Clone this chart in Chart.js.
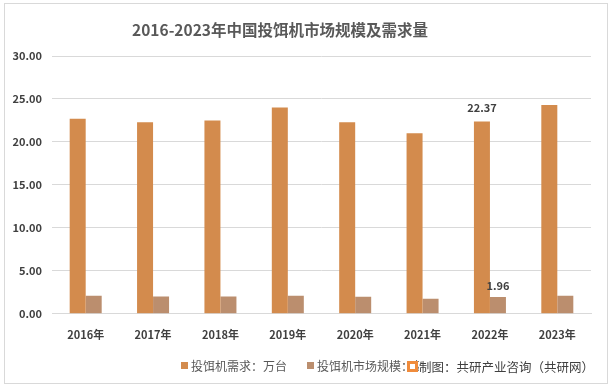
<!DOCTYPE html>
<html>
<head>
<meta charset="utf-8">
<script src="https://cdn.jsdelivr.net/npm/chart.js"></script>
<style>
    html, body { margin: 0; padding: 0; background: #fff; }
    #wrap { width: 614px; height: 390px; position: relative; }
</style>
</head>
<body>
<div id="wrap"><canvas id="feederChart"></canvas></div>
<script>
// ===== DATA =====
var years = ['2016年', '2017年', '2018年', '2019年', '2020年', '2021年', '2022年', '2023年'];
var demand = [22.7, 22.3, 22.5, 24.0, 22.3, 21.0, 22.37, 24.3];      // 万台
var marketSize = [2.1, 2.0, 2.0, 2.1, 1.97, 1.75, 1.96, 2.1];        // 亿元
var yTicks = [0, 5, 10, 15, 20, 25, 30];
var labelIndex = 6; // only 2022 carries value labels

var FONT = '"Noto Sans CJK SC", "Noto Sans", sans-serif';

// title, frame, legend and source note
var decorPlugin = {
    id: 'decor',
    beforeDraw: function(chart) {
        var c = chart.ctx;
        c.save();
        c.fillStyle = '#fff';
        c.fillRect(0, 0, chart.width, chart.height);
        c.strokeStyle = '#d9d9d9';
        c.lineWidth = 1;
        c.strokeRect(4.5, 3.5, 603, 380);
        c.fillStyle = '#595959';
        c.font = 'bold 15.5px ' + FONT;
        c.textAlign = 'center';
        c.textBaseline = 'middle';
        c.fillText('2016-2023年中国投饵机市场规模及需求量', 280, 30);
        c.restore();
    },
    afterDraw: function(chart) {
        var c = chart.ctx;
        c.save();
        // value labels for 2022
        c.font = 'bold 11px ' + FONT;
        c.fillStyle = '#404040';
        c.textAlign = 'center';
        c.textBaseline = 'bottom';
        chart.data.datasets.forEach(function(ds, i) {
            var bar = chart.getDatasetMeta(i).data[labelIndex];
            c.fillText(ds.data[labelIndex].toFixed(2), bar.x, bar.y - (i === 0 ? 8 : 6));
        });
        // legend
        var legendX = [181, 307];
        c.font = '12px ' + FONT;
        c.textAlign = 'left';
        c.textBaseline = 'middle';
        chart.data.datasets.forEach(function(ds, i) {
            c.fillStyle = ds.backgroundColor;
            c.fillRect(legendX[i], 362, 7, 7);
            c.fillStyle = '#595959';
            c.fillText(ds.label, legendX[i] + 10, 366);
        });
        // source note over the legend tail
        c.fillStyle = '#f08c3c';
        c.fillRect(407, 361, 11, 11);
        c.fillStyle = '#fff';
        c.fillRect(410, 364, 5, 5);
        c.fillRect(419, 358, 180, 18);
        c.font = '12.5px ' + FONT;
        c.fillStyle = '#404040';
        c.fillText('制图：共研产业咨询（共研网）', 419, 367);
        c.restore();
    }
};

var ctx = document.getElementById('feederChart').getContext('2d');
new Chart(ctx, {
    type: 'bar',
    data: {
        labels: years,
        datasets: [{
            label: '投饵机需求：万台',
            data: demand,
            backgroundColor: '#d38b4d',
            categoryPercentage: 0.475,
            barPercentage: 1
        }, {
            label: '投饵机市场规模：亿元',
            data: marketSize,
            backgroundColor: '#bb8e6e',
            categoryPercentage: 0.475,
            barPercentage: 1
        }]
    },
    options: {
        responsive: true,
        maintainAspectRatio: false,
        animation: false,
        layout: {
            padding: { left: 6, right: 23, top: 56, bottom: 43 }
        },
        plugins: {
            legend: { display: false },
            tooltip: { enabled: false }
        },
        scales: {
            x: {
                grid: { display: false },
                border: { color: '#d9d9d9' },
                ticks: {
                    color: '#404040',
                    padding: 6,
                    font: { family: FONT, size: 11, weight: 'bold' }
                }
            },
            y: {
                min: 0,
                max: 30,
                afterBuildTicks: function(scale) {
                    scale.ticks = yTicks.map(function(v) { return { value: v }; });
                },
                afterFit: function(scale) { scale.width = 46; },
                grid: { color: '#d9d9d9', drawTicks: false },
                border: { display: false },
                ticks: {
                    color: '#404040',
                    padding: 10,
                    font: { family: FONT, size: 11, weight: 'bold' },
                    callback: function(v) { return Number(v).toFixed(2); }
                }
            }
        }
    },
    plugins: [decorPlugin]
});
</script>
</body>
</html>
